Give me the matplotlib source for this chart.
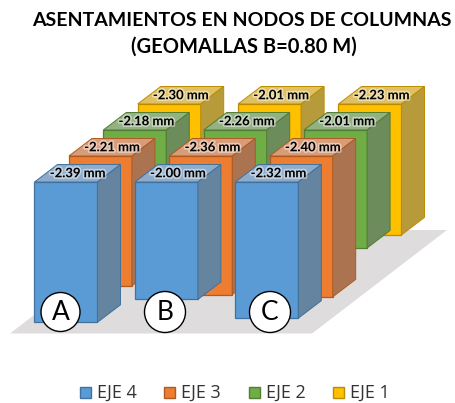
import matplotlib
matplotlib.use("Agg")
import matplotlib.pyplot as plt
import matplotlib.patheffects as pe
from matplotlib.patches import Polygon, Circle, Rectangle

plt.rcParams['font.family'] = ['Lato', 'DejaVu Sans']

columns = ["A", "B", "C"]
series = ["EJE 4", "EJE 3", "EJE 2", "EJE 1"]
eje4 = [2.39, 2.00, 2.32]
eje3 = [2.21, 2.36, 2.40]
eje2 = [2.18, 2.26, 2.01]
eje1 = [2.30, 2.01, 2.23]
values = [eje4, eje3, eje2, eje1]

front = ["#5b9bd5", "#ed7d31", "#70ad47", "#ffc000"]
top = ["#8daccc", "#d99c78", "#93b182", "#dfc063"]
side = ["#64849f", "#ab7350", "#6d8c5c", "#b79b3a"]
edge = ["#41719c", "#ae5a21", "#507e32", "#bc8c00"]

fig = plt.figure(figsize=(4.56, 4.03), dpi=100)
ax = fig.add_axes([0, 0, 1, 1])
ax.set_xlim(0, 456)
ax.set_ylim(403, 0)
ax.axis("off")

# oblique projection of the 3d columns, in picture pixels
x0, y0 = 34.5, 182.0
group_step = 100.4
row_dx, row_dy = 34.4, -26.0
bar_w = 63.0
dx, dy = 23.0, -17.5
scale = 58.7

ax.add_patch(Polygon([(10, 333.5), (312, 333.5), (447, 230), (145, 230)],
                     closed=True, fc="#dedcdd", ec="none"))

# back row first so the front rows cover it
for s in range(len(series) - 1, -1, -1):
    for c in range(len(columns)):
        x = x0 + group_step * c + row_dx * s
        y = y0 + row_dy * s
        h = values[s][c] * scale
        ax.add_patch(Rectangle((x, y), bar_w, h, fc=front[s], ec=edge[s], lw=0.9))
        ax.add_patch(Polygon([(x, y), (x + bar_w, y), (x + bar_w + dx, y + dy), (x + dx, y + dy)],
                             closed=True, fc=top[s], ec=edge[s], lw=0.7))
        ax.add_patch(Polygon([(x + bar_w, y), (x + bar_w + dx, y + dy),
                              (x + bar_w + dx, y + dy + h), (x + bar_w, y + h)],
                             closed=True, fc=side[s], ec=edge[s], lw=0.7))
    for c in range(len(columns)):
        x = x0 + group_step * c + row_dx * s
        y = y0 + row_dy * s
        ax.text(x + bar_w / 2 + dx / 2, y + dy / 2, "-%.2f mm" % values[s][c],
                ha="center", va="center", fontsize=9.4, fontweight="bold", color="black",
                path_effects=[pe.withStroke(linewidth=2.5, foreground="white", alpha=0.45)])

# column markers
for name, cx, r in zip(columns, [60.5, 165, 270], [19.5, 20.5, 20.5]):
    ax.add_patch(Circle((cx, 312), r, fc="white", ec="black", lw=1.0, zorder=5))
    ax.text(cx, 313, name, ha="center", va="center", fontsize=19, color="black", zorder=6)

ax.text(242, 20, "ASENTAMIENTOS EN NODOS DE COLUMNAS", ha="center", va="center",
        fontsize=14.0, fontweight="bold", color="black")
ax.text(244, 47, "(GEOMALLAS B=0.80 M)", ha="center", va="center",
        fontsize=14.5, fontweight="bold", color="black")

# legend
for s, name in enumerate(series):
    lx = 80 + 84.5 * s
    ax.add_patch(Rectangle((lx, 386.5), 11, 11, fc=front[s], ec=edge[s], lw=1.0))
    ax.text(lx + 17, 392.5, name, ha="left", va="center", fontsize=13, color="#333333",
            family=['Open Sans', 'DejaVu Sans'])

fig.savefig("out.png", dpi=100)
